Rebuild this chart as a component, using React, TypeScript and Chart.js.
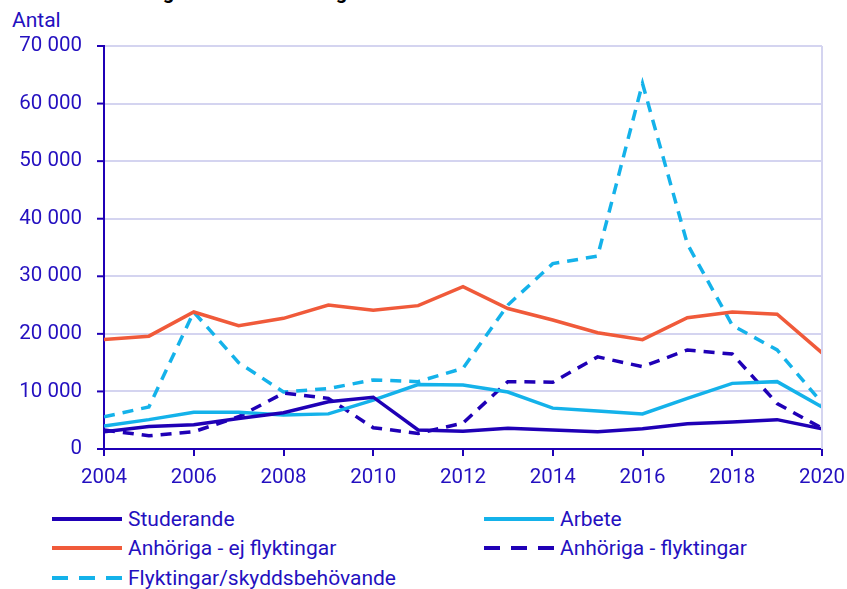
import React, { useEffect, useRef } from "react";
import { Chart, registerables } from "chart.js";

Chart.register(...registerables);

const years = [2004, 2005, 2006, 2007, 2008, 2009, 2010, 2011, 2012, 2013, 2014, 2015, 2016, 2017, 2018, 2019, 2020];
const studerande = [3000, 3900, 4200, 5300, 6300, 8200, 9000, 3300, 3100, 3600, 3300, 3000, 3500, 4400, 4700, 5100, 3500];
const arbete = [4000, 5100, 6400, 6400, 5900, 6100, 8500, 11200, 11100, 9900, 7100, 6600, 6100, 8800, 11400, 11700, 7300];
const anhorigaEj = [19000, 19600, 23800, 21400, 22700, 25000, 24100, 24900, 28200, 24400, 22400, 20200, 19000, 22800, 23800, 23400, 16700];
const anhorigaFly = [3300, 2300, 3000, 5600, 9700, 8800, 3700, 2700, 4500, 11700, 11600, 16000, 14300, 17200, 16500, 7900, 3600];
const flyktingar = [5600, 7300, 23800, 15000, 9900, 10500, 12000, 11700, 14000, 25000, 32200, 33500, 63500, 35600, 21500, 17200, 8000];

const yTicks = [0, 10000, 20000, 30000, 40000, 50000, 60000, 70000];
const xTicks = [2004, 2006, 2008, 2010, 2012, 2014, 2016, 2018, 2020];

const DARK = "#1f00b6";
const LIGHT = "#14b2ea";
const ORANGE = "#f05a3a";
const TEXT = "#2410c0";
const GRID = "#d4d4f0";
const FONT = "Roboto, 'Noto Sans', sans-serif";

const seriesDefs = [
  { label: "Studerande", data: studerande, color: DARK, dash: [] as number[] },
  { label: "Arbete", data: arbete, color: LIGHT, dash: [] as number[] },
  { label: "Anhöriga - ej flyktingar", data: anhorigaEj, color: ORANGE, dash: [] as number[] },
  { label: "Anhöriga - flyktingar", data: anhorigaFly, color: DARK, dash: [11, 8] },
  { label: "Flyktingar/skyddsbehövande", data: flyktingar, color: LIGHT, dash: [11, 8] },
];

function fmt(v: number) {
  const s = String(Math.round(v));
  return s.replace(/\B(?=(\d{3})+(?!\d))/g, " ");
}

function LegendItem({ label, color, dash, x, y }: { label: string; color: string; dash: number[]; x: number; y: number }) {
  return (
    <div style={{ position: "absolute", left: x, top: y - 14, height: 28, display: "flex", alignItems: "center" }}>
      <svg width={70} height={10} style={{ display: "block" }}>
        <line
          x1={0}
          y1={5}
          x2={70}
          y2={5}
          stroke={color}
          strokeWidth={4}
          strokeDasharray={dash.length ? "16 11" : undefined}
        />
      </svg>
      <span style={{ marginLeft: 6, font: `21px ${FONT}`, color: TEXT, whiteSpace: "nowrap" }}>{label}</span>
    </div>
  );
}

export default function App() {
  const ref = useRef<HTMLCanvasElement>(null);

  useEffect(() => {
    if (!ref.current) return;
    const chart = new Chart(ref.current, {
      type: "line",
      data: {
        datasets: seriesDefs.map((s) => ({
          label: s.label,
          data: years.map((yr, i) => ({ x: yr, y: s.data[i] })),
          borderColor: s.color,
          backgroundColor: s.color,
          borderWidth: 3.5,
          borderDash: s.dash,
          pointRadius: 0,
          tension: 0,
          fill: false,
        })),
      },
      options: {
        animation: false,
        responsive: false,
        maintainAspectRatio: false,
        layout: { padding: { left: 0, right: 25, top: 46, bottom: 0 } },
        plugins: { legend: { display: false }, tooltip: { enabled: false } },
        scales: {
          x: {
            type: "linear",
            min: 2004,
            max: 2020,
            afterBuildTicks: (scale: any) => {
              scale.ticks = xTicks.map((v) => ({ value: v }));
            },
            afterFit: (scale: any) => {
              scale.height = 51;
              scale.paddingLeft = 0;
              scale.paddingRight = 0;
            },
            grid: {
              drawOnChartArea: false,
              drawTicks: true,
              tickLength: 7,
              color: DARK,
              lineWidth: 2,
            },
            border: { display: true, color: DARK, width: 2 },
            ticks: {
              color: TEXT,
              font: { family: FONT, size: 20.5 },
              padding: 10,
              maxRotation: 0,
              autoSkip: false,
              callback: (v: any) => String(v),
            },
          },
          y: {
            type: "linear",
            min: 0,
            max: 70000,
            afterBuildTicks: (scale: any) => {
              scale.ticks = yTicks.map((v) => ({ value: v }));
            },
            afterFit: (scale: any) => {
              scale.width = 104;
              scale.paddingTop = 0;
              scale.paddingBottom = 0;
            },
            grid: {
              color: GRID,
              lineWidth: 2,
              drawTicks: false,
            },
            border: { display: true, color: DARK, width: 2 },
            ticks: {
              color: TEXT,
              font: { family: FONT, size: 20.5 },
              padding: 22,
              callback: (v: any) => fmt(Number(v)),
            },
          },
        },
      },
      plugins: [
        {
          id: "extras",
          afterDraw: (c: any) => {
            const ctx = c.ctx;
            const a = c.chartArea;
            const ys = c.scales.y;
            ctx.save();
            ctx.strokeStyle = GRID;
            ctx.lineWidth = 2;
            ctx.beginPath();
            ctx.moveTo(a.right, a.top);
            ctx.lineTo(a.right, a.bottom);
            ctx.stroke();
            ctx.strokeStyle = DARK;
            ctx.lineWidth = 2;
            yTicks.forEach((v) => {
              const py = ys.getPixelForValue(v);
              ctx.beginPath();
              ctx.moveTo(a.left - 7, py);
              ctx.lineTo(a.left, py);
              ctx.stroke();
            });
            ctx.restore();
          },
        },
      ],
    } as any);
    return () => chart.destroy();
  }, []);

  return (
    <div style={{ position: "fixed", left: 0, top: 0, width: 847, height: 589, background: "#fff", overflow: "hidden" }}>
      <div
        style={{
          position: "absolute",
          left: 10,
          top: -18,
          font: `bold 20px ${FONT}`,
          lineHeight: "20px",
          color: "#000",
          whiteSpace: "nowrap",
        }}
      >
        Invandrade efter grund för bosättning 2004–2020
      </div>
      <div style={{ position: "absolute", left: 12, top: 8, font: `21px ${FONT}`, color: TEXT, lineHeight: "24px" }}>Antal</div>
      <canvas ref={ref} width={847} height={500} style={{ position: "absolute", left: 0, top: 0, width: 847, height: 500 }} />
      {seriesDefs.map((s, i) => (
        <LegendItem
          key={s.label}
          label={s.label}
          color={s.color}
          dash={s.dash}
          x={i % 2 === 0 ? 52 : 484}
          y={[519, 519, 548, 548, 578][i]}
        />
      ))}
    </div>
  );
}
